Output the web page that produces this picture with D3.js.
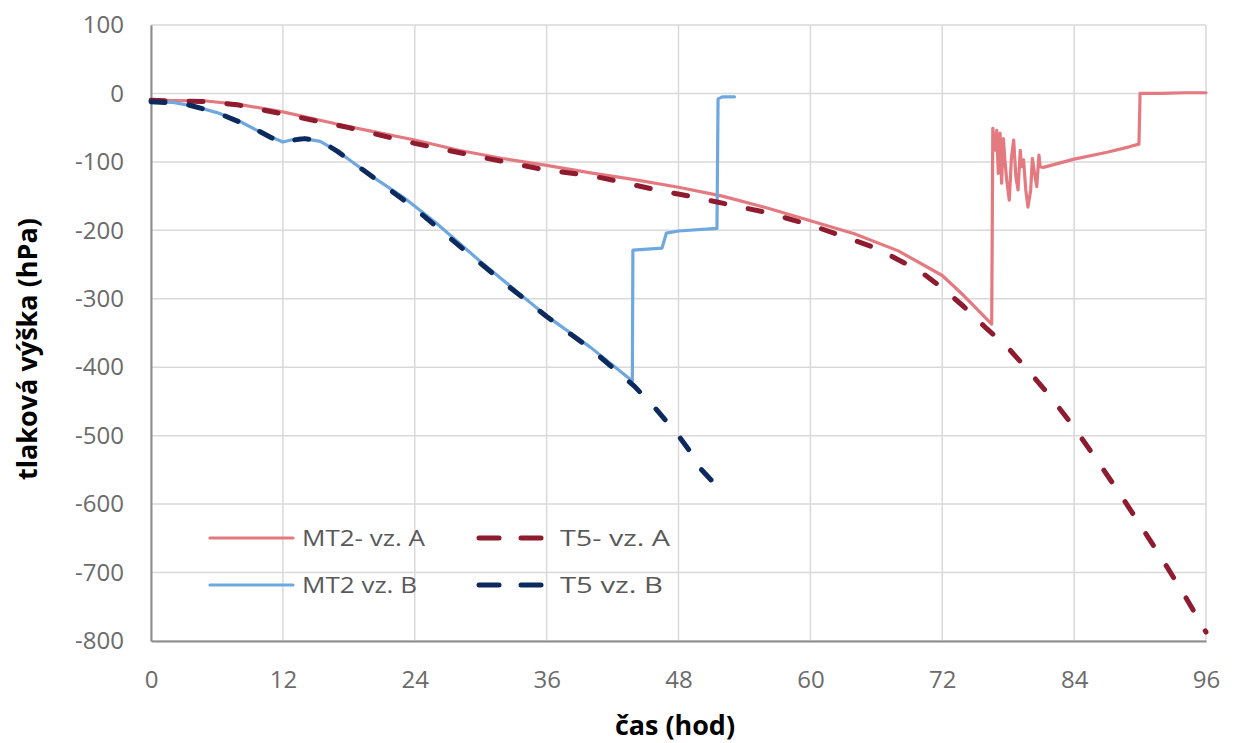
<!DOCTYPE html>
<html>
<head>
<meta charset="utf-8">
<script src="https://cdn.jsdelivr.net/npm/d3@7"></script>
<style>
  body { margin: 0; background: #fff; }
  text { font-family: "Open Sans", "Liberation Sans", sans-serif; }
</style>
</head>
<body>
<svg></svg>
<script>
const WIDTH = 1237;
const HEIGHT = 743;
const margin = { top: 25, right: 31, bottom: 102, left: 151 };

// tick labels
const xTicks = [0, 12, 24, 36, 48, 60, 72, 84, 96];
const yTicks = [100, 0, -100, -200, -300, -400, -500, -600, -700, -800];

// [cas (hod), tlakova vyska (hPa)]
const mt2A = [
    [0, -10], [5, -11], [8, -16], [12, -27], [17, -45], [20, -55], [24, -68], [28, -83],
    [32, -95], [36, -105], [40, -116], [44, -126], [48, -137], [52, -150], [56, -167],
    [60, -186], [64, -205], [68, -230], [72, -266], [74, -296], [76.5, -337],
    [76.6, -51], [76.8, -83], [76.96, -54], [77.1, -117], [77.26, -58], [77.4, -131],
    [77.56, -66], [77.7, -97], [77.87, -127], [78.1, -156], [78.3, -93], [78.5, -68],
    [78.7, -122], [78.9, -141], [79.1, -83], [79.2, -107], [79.4, -97], [79.6, -141],
    [79.8, -166], [80.05, -141], [80.2, -95], [80.4, -117], [80.6, -136], [80.8, -90],
    [80.9, -107], [81.2, -108], [84, -96], [87, -86], [89, -78], [89.9, -74],
    [90.0, 0], [92, 0], [94, 1], [96, 1]
];

const t5A = [
    [0, -10], [5, -12], [8, -17], [12, -30], [18, -50], [24, -73], [30, -93], [36, -112],
    [40, -120], [42.7, -129], [46, -141], [49.3, -151], [52.8, -163], [56, -174],
    [60, -192], [66, -226], [70, -260], [72, -284], [74, -312], [76, -343], [78, -372],
    [80, -408], [82, -446], [84, -488], [86, -534], [88, -581], [90, -630], [92, -680],
    [94, -732], [96, -787]
];

const mt2B = [
    [0, -12], [2, -13], [4, -19], [6, -28], [8, -40], [10, -57], [12, -71], [13.5, -65],
    [15.4, -70], [17.2, -87], [20, -120], [23, -152], [26, -190], [30, -246], [36, -325],
    [40, -371], [43.8, -420], [43.85, -229], [46.5, -226], [46.9, -204], [48, -201],
    [51.5, -197], [51.6, -8], [52, -5], [53.1, -5]
];

const t5B = [
    [0, -12], [3, -15], [6, -28], [9, -48], [11, -65], [12, -72], [13, -68], [14, -66],
    [15.5, -70], [17, -85], [20, -120], [24, -168], [28, -222], [32, -275], [36, -326],
    [40, -373], [44, -428], [46, -462], [48, -500], [49, -522], [50, -548], [52.3, -588]
];

const seriesNames = ["MT2- vz. A", "T5- vz. A", "MT2 vz. B", "T5 vz. B"];
const seriesData = [mt2A, t5A, mt2B, t5B];
const seriesColors = ["#e47a80", "#8e1b2e", "#6ea8df", "#0c2a5e"];
const seriesDashed = [false, true, false, true];

let svg = d3.select("svg")
    .attr("width", WIDTH)
    .attr("height", HEIGHT);

const x = d3.scaleLinear().domain([0, 96]).range([margin.left, WIDTH - margin.right]);
const y = d3.scaleLinear().domain([-800, 100]).range([HEIGHT - margin.bottom, margin.top]);

// grid
svg.append("g")
    .selectAll("line")
    .data(xTicks)
    .join("line")
    .attr("x1", d => x(d)).attr("x2", d => x(d))
    .attr("y1", y(100)).attr("y2", y(-800))
    .style("stroke", "#d9d9d9")
    .style("stroke-width", 1.5);

svg.append("g")
    .selectAll("line")
    .data(yTicks)
    .join("line")
    .attr("x1", x(0)).attr("x2", x(96))
    .attr("y1", d => y(d)).attr("y2", d => y(d))
    .style("stroke", "#d9d9d9")
    .style("stroke-width", 1.5);

// axes
let xAxis = svg.append("g")
    .attr("transform", `translate(0, ${y(-800)})`)
    .call(d3.axisBottom(x).tickValues(xTicks).tickSize(0).tickPadding(30));
let yAxis = svg.append("g")
    .attr("transform", `translate(${x(0)}, 0)`)
    .call(d3.axisLeft(y).tickValues(yTicks).tickSize(0).tickPadding(27)
        .tickFormat(d => d.toString()));

[xAxis, yAxis].forEach(a => {
    a.select(".domain").style("stroke", "#8c8c8c").style("stroke-width", 2);
    a.selectAll("text")
        .style("font-size", "24px")
        .style("fill", "#6b6b6b");
});

// lines
const line = d3.line()
    .x(d => x(d[0]))
    .y(d => y(d[1]));

// draw order: solids under dashes
[0, 2, 1, 3].forEach(i => {
    svg.append("path")
        .attr("d", line(seriesData[i]))
        .style("fill", "none")
        .style("stroke", seriesColors[i])
        .style("stroke-width", seriesDashed[i] ? 5 : 3.2)
        .style("stroke-linejoin", "round")
        .style("stroke-linecap", "round")
        .style("stroke-dasharray", seriesDashed[i] ? "14,24" : null);
});

// legend
const legendPos = [[210, 538], [479, 538], [210, 585], [479, 585]];
const legendTextLen = [123, 110, 115, 103];
seriesNames.forEach((name, i) => {
    let g = svg.append("g").attr("transform", `translate(${legendPos[i][0]}, ${legendPos[i][1]})`);
    if (seriesDashed[i]) {
        [0, 42].forEach(dx => {
            g.append("line")
                .attr("x1", dx).attr("x2", dx + 20)
                .attr("y1", 0).attr("y2", 0)
                .style("stroke", seriesColors[i])
                .style("stroke-width", 5)
                .style("stroke-linecap", "round");
        });
    } else {
        g.append("line")
            .attr("x1", 0).attr("x2", 83)
            .attr("y1", 0).attr("y2", 0)
            .style("stroke", seriesColors[i])
            .style("stroke-width", 3.2)
            .style("stroke-linecap", "round");
    }
    g.append("text")
        .attr("x", seriesDashed[i] ? 81 : 92)
        .attr("y", 8)
        .attr("textLength", legendTextLen[i])
        .attr("lengthAdjust", "spacingAndGlyphs")
        .style("font-size", "22px")
        .style("fill", "#595959")
        .text(name);
});

// axis titles
svg.append("text")
    .attr("transform", `translate(37, 349) rotate(-90)`)
    .attr("text-anchor", "middle")
    .attr("textLength", 262)
    .attr("lengthAdjust", "spacingAndGlyphs")
    .style("font-size", "26px")
    .style("font-weight", "bold")
    .style("fill", "#000")
    .text("tlaková výška (hPa)");

svg.append("text")
    .attr("x", 675)
    .attr("y", 735)
    .attr("text-anchor", "middle")
    .attr("textLength", 120)
    .attr("lengthAdjust", "spacingAndGlyphs")
    .style("font-size", "26px")
    .style("font-weight", "bold")
    .style("fill", "#000")
    .text("čas (hod)");
</script>
</body>
</html>
